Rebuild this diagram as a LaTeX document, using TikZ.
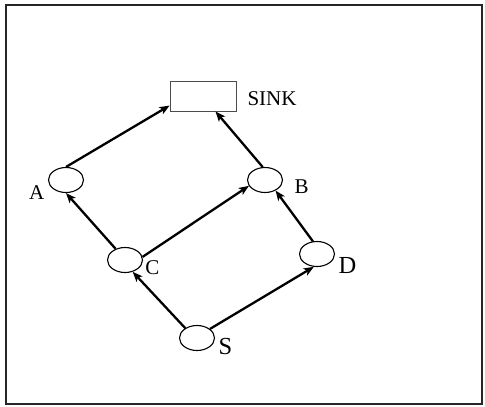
\documentclass[tikz,border=0pt]{standalone}
\usepackage{fontspec}
\setmainfont{Liberation Serif}
\usetikzlibrary{arrows.meta,shapes.geometric}
\begin{document}
\begin{tikzpicture}[x=1pt,y=-1pt,
  vert/.style={draw,ellipse,minimum width=35pt,minimum height=25pt,inner sep=0pt,line width=1.1pt},
  lab/.style={inner sep=0pt,font=\fontsize{21}{24}\selectfont},
  biglab/.style={inner sep=0pt,font=\fontsize{24.5}{28}\selectfont},
  edge/.style={line width=2.3pt,-{Stealth[length=10pt,width=8pt,inset=2.5pt]}}]
\useasboundingbox (0,0) rectangle (485,407);
\draw[line width=2.2pt,draw=black!85] (6,5) rectangle (482,404);
\node[draw=black!70,line width=0.9pt,minimum width=66pt,minimum height=30pt,inner sep=0pt] (sink) at (203,96) {};
\node[lab] (sinklab) at (272,99) {SINK};
\node[vert] (A) at (66,180) {};
\node[vert] (B) at (265,180) {};
\node[vert] (C) at (125,260) {};
\node[vert] (D) at (317,254) {};
\node[vert] (S) at (197,338) {};
\node[lab] (Alab) at (36.7,193) {A};
\node[lab] (Blab) at (301.7,187) {B};
\node[lab] (Clab) at (152.5,267.5) {C};
\node[biglab] (Dlab) at (347.5,265.3) {D};
\node[biglab] (Slab) at (225.5,346.7) {S};
\draw[edge] (A.north) -- (sink.196);
\draw[edge] (B.100) -- (sink.309);
\draw[edge] (C.130) -- (A.south);
\draw[edge] (C.10) -- (B.200);
\draw[edge] (D.108) -- (B.315);
\draw[edge] (S.140) -- (C.303);
\draw[edge] (S.35) -- (D.256);
\end{tikzpicture}
\end{document}
